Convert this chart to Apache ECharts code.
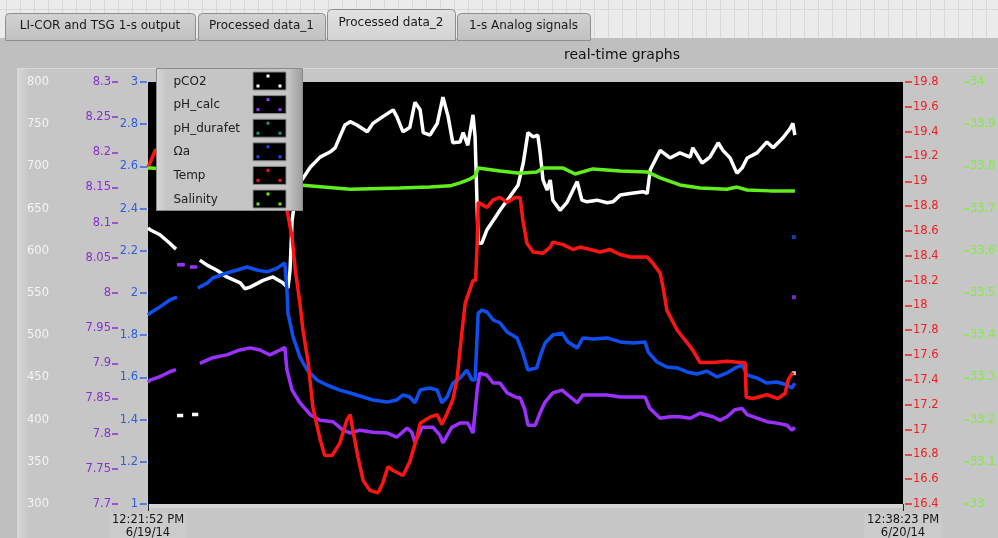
<!DOCTYPE html>
<html>
<head>
<meta charset="utf-8">
<script src="https://cdn.jsdelivr.net/npm/echarts@6/dist/echarts.min.js"></script>
<style>
  html, body { margin: 0; padding: 0; background: #c0c0c0; }
  #chart { width: 998px; height: 538px; }
</style>
</head>
<body>
<div id="chart"></div>
<script>
// ---- front panel text ----
const tabNames = ['LI-COR and TSG 1-s output', 'Processed data_1', 'Processed data_2', '1-s Analog signals'];
const activeTab = 2;
const chartTitle = 'real-time graphs';
const seriesNames = ['pCO2', 'pH_calc', 'pH_durafet', 'Ωa', 'Temp', 'Salinity'];

// ---- time axis: first and last sample ----
const timeRange = [new Date(2014, 5, 19, 12, 21, 52), new Date(2014, 5, 20, 12, 38, 23)];
const timeLabels = [['12:21:52 PM', '6/19/14'], ['12:38:23 PM', '6/20/14']];

// ---- axis scales [min, max, step] ----
const pco2Scale = [300, 800, 50];
const phScale = [7.7, 8.3, 0.05];
const omegaScale = [1, 3, 0.2];
const tempScale = [16.4, 19.8, 0.2];
const salinityScale = [33, 34, 0.1];

// ---- series: [minutes since first sample, value]; null value = gap ----
const pco2 = [[0,627],[4,625],[23,619],[42,609],[54,602],[55,null],[56,405],[68,405],[76,null],[85,406],[97,406],[99,null],
  [100,589],[114,583],[133,577],[152,569],[178,562],[187,555],[197,557],[222,565],[241,569],[260,562],[270,556],[274,577],
  [278,636],[287,676],[297,684],[313,699],[332,711],[351,717],[361,722],[370,735],[380,749],[390,753],[403,749],[423,741],
  [434,751],[453,759],[473,767],[480,759],[492,741],[505,746],[515,776],[525,767],[531,740],[544,737],[558,751],[569,782],
  [579,759],[588,728],[602,729],[608,740],[617,725],[627,761],[631,735],[637,609],[644,609],[654,625],[666,636],[679,648],
  [698,664],[714,678],[724,704],[733,740],[743,735],[752,737],[756,719],[762,684],[770,672],[776,684],[781,660],[795,648],
  [808,657],[820,672],[828,682],[837,660],[847,658],[866,660],[886,657],[897,658],[911,666],[930,668],[955,670],[963,668],
  [969,696],[988,719],[1007,710],[1026,716],[1046,711],[1051,722],[1069,704],[1084,711],[1100,728],[1109,719],[1123,710],
  [1136,692],[1146,698],[1156,710],[1175,716],[1194,729],[1206,722],[1225,734],[1239,745],[1244,751],[1248,737]];

const phCalc = [[0,7.873],[4,7.876],[23,7.881],[42,7.888],[54,7.891],[55,null],[56,8.040],[71,8.040],[76,null],[81,8.037],[95,8.037],[97,null],
  [100,7.900],[125,7.908],[152,7.912],[177,7.919],[197,7.922],[216,7.919],[235,7.912],[255,7.919],[264,7.923],[268,7.891],
  [278,7.862],[293,7.844],[313,7.827],[332,7.819],[357,7.817],[376,7.805],[390,7.801],[409,7.805],[434,7.802],[461,7.801],
  [480,7.795],[500,7.808],[509,7.802],[515,7.788],[529,7.809],[550,7.809],[563,7.798],[569,7.787],[586,7.809],[602,7.815],
  [617,7.815],[627,7.801],[635,7.862],[640,7.886],[654,7.883],[666,7.872],[679,7.872],[693,7.858],[712,7.851],[718,7.851],
  [727,7.834],[733,7.812],[747,7.812],[756,7.829],[766,7.845],[781,7.858],[799,7.862],[810,7.855],[828,7.844],[839,7.855],
  [858,7.855],[886,7.855],[911,7.852],[936,7.852],[959,7.852],[968,7.836],[988,7.822],[1007,7.824],[1026,7.824],[1046,7.822],
  [1065,7.829],[1090,7.824],[1103,7.819],[1117,7.824],[1132,7.834],[1146,7.836],[1156,7.827],[1175,7.822],[1194,7.817],
  [1213,7.815],[1233,7.812],[1242,7.805],[1248,7.809]];

const phDurafet = [];

const omegaA = [[0,1.896],[4,1.905],[23,1.934],[42,1.967],[56,1.981],[76,null],[96,2.024],[114,2.047],[125,2.071],[152,2.095],
  [172,2.109],[191,2.123],[210,2.109],[230,2.100],[249,2.118],[264,2.142],[268,2.014],[270,1.905],[280,1.791],[293,1.697],
  [307,1.635],[326,1.588],[345,1.564],[370,1.540],[390,1.526],[415,1.507],[434,1.493],[461,1.483],[480,1.493],[492,1.517],
  [505,1.507],[515,1.479],[525,1.540],[544,1.550],[558,1.540],[567,1.479],[577,1.507],[588,1.573],[602,1.597],[615,1.635],
  [625,1.588],[631,1.588],[637,1.905],[644,1.919],[654,1.910],[666,1.872],[679,1.858],[693,1.815],[712,1.787],[723,1.716],
  [733,1.635],[750,1.645],[756,1.697],[766,1.763],[781,1.801],[799,1.810],[810,1.768],[828,1.739],[839,1.787],[858,1.782],
  [886,1.787],[911,1.768],[936,1.763],[959,1.768],[965,1.720],[982,1.673],[1001,1.649],[1021,1.645],[1040,1.626],[1059,1.616],
  [1078,1.630],[1098,1.602],[1117,1.621],[1136,1.649],[1146,1.659],[1156,1.611],[1175,1.597],[1194,1.573],[1213,1.578],
  [1233,1.564],[1242,1.550],[1248,1.573]];

const temp = [[0,19.11],[8,19.19],[14,19.25],[100,19.29],[216,19.27],[262,19.17],[268,18.77],[278,18.55],[284,18.29],[293,18.02],
  [299,17.80],[309,17.54],[318,17.18],[332,16.92],[341,16.79],[355,16.79],[370,16.89],[384,17.08],[390,17.12],[395,17.00],
  [405,16.78],[415,16.59],[428,16.51],[444,16.49],[453,16.57],[463,16.70],[473,16.67],[492,16.63],[505,16.74],[519,16.94],
  [525,17.05],[544,17.10],[558,17.12],[567,17.04],[577,17.13],[588,17.24],[596,17.40],[606,17.80],[612,18.02],[627,18.20],
  [632,18.20],[635,18.50],[637,18.83],[654,18.79],[666,18.85],[679,18.87],[693,18.83],[708,18.87],[718,18.87],[723,18.69],
  [731,18.50],[743,18.43],[762,18.42],[776,18.47],[781,18.51],[801,18.49],[820,18.45],[833,18.47],[853,18.45],[872,18.43],
  [891,18.45],[911,18.41],[930,18.39],[963,18.39],[974,18.34],[988,18.26],[993,18.16],[1001,17.96],[1021,17.80],[1040,17.70],
  [1051,17.64],[1065,17.54],[1090,17.54],[1117,17.55],[1142,17.54],[1152,17.54],[1154,17.26],[1167,17.25],[1194,17.28],
  [1215,17.25],[1229,17.29],[1235,17.40],[1244,17.46]];

const salinity = [[0,33.796],[8,33.796],[139,33.777],[197,33.765],[293,33.756],[390,33.746],[486,33.749],[544,33.751],
  [583,33.754],[602,33.761],[621,33.770],[631,33.777],[637,33.796],[679,33.789],[718,33.784],[750,33.787],[762,33.796],
  [801,33.796],[824,33.782],[858,33.794],[911,33.789],[963,33.787],[988,33.773],[1026,33.756],[1065,33.749],[1117,33.746],
  [1136,33.751],[1156,33.744],[1200,33.742],[1248,33.742]];

// latest single readings shown as lone points
const lastPco2 = [[1246, 455]];
const lastPh = [[1246, 7.994]];
const lastOmega = [[1246, 2.265]];

// ---- colours ----
const plotColors = ['#ffffff', '#9b30ff', '#1f9090', '#0f4ff0', '#ff1414', '#62ee1e'];
const labelColors = ['#f4f4f4', '#8a2fd2', '#2a5fe0', '#f02020', '#7cef3c'];

const FONT = 'DejaVu Sans';
const spanMinutes = (timeRange[1] - timeRange[0]) / 60000;

function trim(v, d) { return String(+v.toFixed(d)); }

function yAxis(scale, pos, offset, color, tickLen, margin, digits) {
  return {
    type: 'value', position: pos, offset: offset,
    min: scale[0], max: scale[1], interval: scale[2],
    axisLine: { show: false },
    axisTick: { show: true, inside: false, length: tickLen, lineStyle: { color: color, width: 1.5 } },
    axisLabel: { color: color, fontFamily: FONT, fontSize: 11.5, margin: margin,
                 formatter: v => trim(v, digits) },
    splitLine: { show: false }
  };
}

function lineSeries(i, data, axis) {
  return {
    type: 'line', name: seriesNames[i], data: data, yAxisIndex: axis,
    symbol: 'none', showSymbol: false, connectNulls: false,
    lineStyle: { color: plotColors[i], width: 3.5 },
    itemStyle: { color: plotColors[i] },
    z: 2 + i
  };
}

function dotSeries(i, data, axis) {
  return {
    type: 'scatter', data: data, yAxisIndex: axis, symbol: 'rect', symbolSize: 4,
    itemStyle: { color: plotColors[i] }, z: 2 + i
  };
}

// ---- panel decoration: tab strip, frame, legend box ----
const graphics = [];
graphics.push({ type: 'rect', z: -20, shape: { x: 0, y: 0, width: 998, height: 40 }, style: { fill: '#ebebeb' } });
for (let gx = 6; gx < 998; gx += 14) {
  graphics.push({ type: 'line', z: -19, shape: { x1: gx + 0.5, y1: 0, x2: gx + 0.5, y2: 40 }, style: { stroke: '#d9d9d9', lineWidth: 1 } });
}
graphics.push({ type: 'line', z: -19, shape: { x1: 0, y1: 9.5, x2: 998, y2: 9.5 }, style: { stroke: '#d9d9d9', lineWidth: 1 } });
graphics.push({ type: 'rect', z: -18, shape: { x: 0, y: 38, width: 998, height: 500 }, style: { fill: '#bfbfbf' } });
graphics.push({ type: 'rect', z: -17, shape: { x: 17, y: 68, width: 981, height: 470 }, style: { fill: '#c6c6c6' } });
graphics.push({ type: 'rect', z: -16, shape: { x: 17, y: 68, width: 11, height: 470 },
  style: { fill: new echarts.graphic.LinearGradient(0, 0, 1, 0, [{ offset: 0, color: '#d8d8d8' }, { offset: 1, color: '#c8c8c8' }]) } });
graphics.push({ type: 'line', z: -16, shape: { x1: 17, y1: 68.5, x2: 998, y2: 68.5 }, style: { stroke: '#d9d9d9', lineWidth: 1 } });
graphics.push({ type: 'rect', z: -15, shape: { x: 148, y: 504, width: 755, height: 4 }, style: { fill: '#d4d4d4' } });

const tabBoxes = [[5, 190], [198, 127], [327, 128], [457, 133]];
tabNames.forEach((name, i) => {
  const [tx, tw] = tabBoxes[i];
  const on = i === activeTab;
  const ty = on ? 9 : 13;
  graphics.push({ type: 'rect', z: on ? -12 : -14,
    shape: { x: tx + 0.5, y: ty + 0.5, width: tw, height: 40 - ty, r: [4, 4, 0, 0] },
    style: { fill: new echarts.graphic.LinearGradient(0, 0, 0, 1, on
        ? [{ offset: 0, color: '#e2e2e2' }, { offset: 1, color: '#d2d2d2' }]
        : [{ offset: 0, color: '#d2d2d2' }, { offset: 1, color: '#c0c0c0' }]),
      stroke: '#8e8e8e', lineWidth: 1 } });
  graphics.push({ type: 'text', z: -11, x: tx + tw / 2, y: on ? 23 : 26,
    style: { text: name, fill: '#1a1a1a', font: '12px "' + FONT + '"', textAlign: 'center', textVerticalAlign: 'middle' } });
});
graphics.push({ type: 'text', z: -11, x: 622, y: 55,
  style: { text: chartTitle, fill: '#111111', font: '14px "' + FONT + '"', textAlign: 'center', textVerticalAlign: 'middle' } });

// legend box drawn over the plot area
const LZ = 100;
const legendX = 156.5, legendY = 68.5;
graphics.push({ type: 'rect', z: LZ, shape: { x: legendX, y: legendY, width: 146, height: 142 },
  style: { fill: new echarts.graphic.LinearGradient(0, 0, 1, 0, [
    { offset: 0, color: '#d6d6d6' }, { offset: 0.07, color: '#c6c6c6' }, { offset: 0.9, color: '#c4c4c4' }, { offset: 1, color: '#9c9c9c' }]),
    stroke: '#8a8a8a', lineWidth: 1 } });
seriesNames.forEach((name, i) => {
  const cy = legendY + 13 + i * 23.6;
  graphics.push({ type: 'text', z: LZ + 1, x: legendX + 17, y: cy,
    style: { text: name, fill: '#202020', font: '12px "' + FONT + '"', textVerticalAlign: 'middle' } });
  graphics.push({ type: 'rect', z: LZ + 1, shape: { x: legendX + 96.5, y: cy - 9.5, width: 33, height: 18 },
    style: { fill: '#000000', stroke: '#8a8a8a', lineWidth: 1 } });
  [[110, -7], [100, 3], [122, 3]].forEach(([dx, dy]) => {
    graphics.push({ type: 'rect', z: LZ + 2, shape: { x: legendX + dx, y: cy + dy, width: 3, height: 3 }, style: { fill: plotColors[i] } });
  });
});

// ---- chart ----
const chart = echarts.init(document.getElementById('chart'));
chart.setOption({
  animation: false,
  backgroundColor: 'transparent',
  textStyle: { fontFamily: FONT },
  grid: { left: 148, right: 95, top: 82, bottom: 34, show: true, backgroundColor: '#000000', borderWidth: 0,
          containLabel: false, outerBoundsMode: 'none' },
  xAxis: {
    type: 'value', min: 0, max: spanMinutes, interval: spanMinutes,
    axisLine: { show: false },
    axisTick: { show: true, length: 7, lineStyle: { color: '#222222', width: 1 } },
    axisLabel: {
      margin: 9, color: '#151515', fontSize: 11.5, fontFamily: FONT, lineHeight: 13,
      backgroundColor: '#cbcbcb', padding: [1, 3, 0, 3],
      formatter: v => (v < spanMinutes / 2 ? timeLabels[0] : timeLabels[1]).join('\n')
    },
    splitLine: { show: false }
  },
  yAxis: [
    yAxis(pco2Scale, 'left', 91, labelColors[0], 6, 8, 0),
    yAxis(phScale, 'left', 30, labelColors[1], 6, 7, 2),
    yAxis(omegaScale, 'left', 1, labelColors[2], 7, 9, 1),
    yAxis(tempScale, 'right', 2, labelColors[3], 7, 8, 1),
    yAxis(salinityScale, 'right', 61, labelColors[4], 5, 6, 1)
  ],
  series: [
    lineSeries(0, pco2, 0),
    lineSeries(1, phCalc, 1),
    lineSeries(2, phDurafet, 1),
    lineSeries(3, omegaA, 2),
    lineSeries(4, temp, 3),
    lineSeries(5, salinity, 4),
    dotSeries(0, lastPco2, 0),
    dotSeries(1, lastPh, 1),
    dotSeries(3, lastOmega, 2)
  ],
  graphic: { elements: graphics }
});
</script>
</body>
</html>
